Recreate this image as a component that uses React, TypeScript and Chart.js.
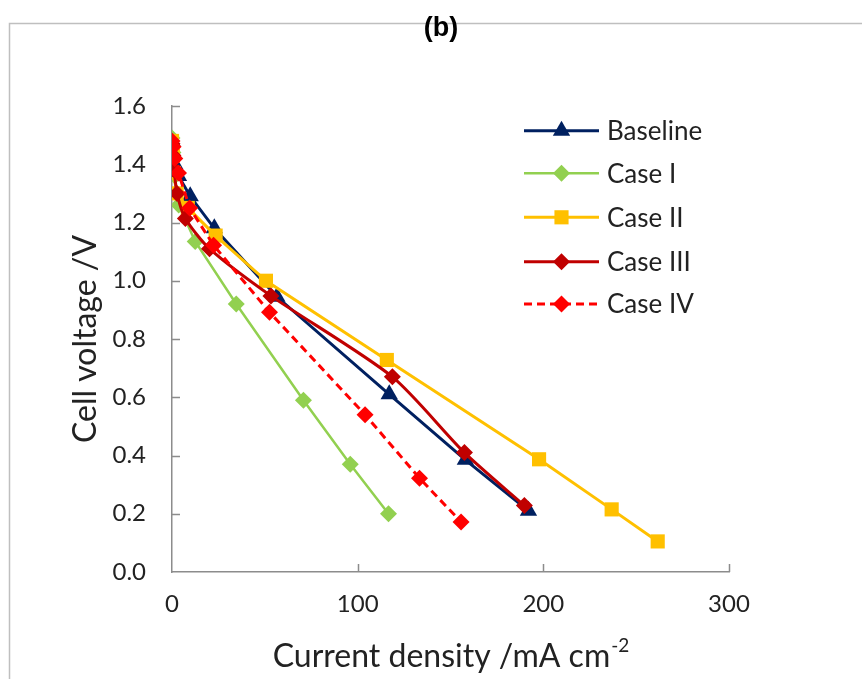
import React, { useEffect, useRef } from 'react';
import { Chart, registerables } from 'chart.js';

Chart.register(...registerables);

const chartTitle = '(b)';
const xAxisTitle = 'Current density /mA cm';
const xAxisSup = '-2';
const yAxisTitle = 'Cell voltage /V';
const xTicks = [0, 100, 200, 300];
const yTicks = [0, 0.2, 0.4, 0.6, 0.8, 1.0, 1.2, 1.4, 1.6];

const seriesNames = ['Baseline', 'Case I', 'Case II', 'Case III', 'Case IV'];

const baselineX = [0, 0.5, 1.5, 3.5, 9.8, 22.8, 56.5, 117, 158, 192];
const baselineY = [1.48, 1.44, 1.4, 1.36, 1.29, 1.18, 0.945, 0.61, 0.385, 0.21];

const case1X = [0, 0.5, 1.5, 3.6, 12.5, 34.6, 70.8, 96, 116.6];
const case1Y = [1.49, 1.44, 1.36, 1.26, 1.135, 0.92, 0.59, 0.37, 0.2];

const case2X = [0, 0.5, 1, 2.5, 8.5, 23.5, 50.6, 115.7, 197.7, 236.8, 261.6];
const case2Y = [1.48, 1.43, 1.37, 1.3, 1.25, 1.155, 1.0, 0.728, 0.387, 0.215, 0.105];

const case3X = [0, 0.5, 1.2, 2.7, 7.2, 20.2, 53.3, 118.7, 157.5, 189.8];
const case3Y = [1.47, 1.43, 1.38, 1.3, 1.214, 1.11, 0.948, 0.67, 0.41, 0.228];

const case4X = [0, 0.6, 1.5, 3.5, 9.5, 22.4, 52.5, 104, 133.3, 155.7];
const case4Y = [1.48, 1.46, 1.42, 1.37, 1.25, 1.122, 0.892, 0.54, 0.322, 0.172];

const colors = ['#002060', '#92D050', '#FFC000', '#C00000', '#FF0000'];
const markers = ['triangle', 'rectRot', 'rect', 'rectRot', 'rectRot'];
const markerRadius = [10, 8.5, 10, 8.5, 8.5];
const lineWidths = [3, 2.5, 3, 3, 3];
const dashes: number[][] = [[], [], [], [], [8, 5]];

const FONT = 'Lato, "Liberation Sans", sans-serif';

function pts(xs: number[], ys: number[]) {
  return xs.map((x, i) => ({ x, y: ys[i] }));
}

const decorPlugin = {
  id: 'decor',
  beforeDatasetsDraw(chart: any) {
    const ctx = chart.ctx;
    const xs = chart.scales.x;
    const ys = chart.scales.y;
    const area = chart.chartArea;
    ctx.save();
    ctx.strokeStyle = '#8c8c8c';
    ctx.lineWidth = 1.5;
    ctx.beginPath();
    xTicks.forEach((v) => {
      if (v === 0) return;
      const px = Math.round(xs.getPixelForValue(v)) + 0.5;
      ctx.moveTo(px, area.bottom);
      ctx.lineTo(px, area.bottom - 8);
    });
    yTicks.forEach((v) => {
      if (v === 0) return;
      const py = Math.round(ys.getPixelForValue(v)) + 0.5;
      ctx.moveTo(area.left, py);
      ctx.lineTo(area.left + 8, py);
    });
    ctx.stroke();
    ctx.restore();
  },
  afterDraw(chart: any) {
    const ctx = chart.ctx;
    const area = chart.chartArea;
    ctx.save();
    // outer border
    ctx.strokeStyle = '#bfbfbf';
    ctx.lineWidth = 1.5;
    ctx.beginPath();
    ctx.moveTo(9.5, 679);
    ctx.lineTo(9.5, 23.5);
    ctx.lineTo(862, 23.5);
    ctx.stroke();

    // title
    ctx.fillStyle = '#000';
    ctx.font = 'bold 27px "Liberation Sans Narrow", "Liberation Sans", Arial, sans-serif';
    ctx.textAlign = 'center';
    ctx.textBaseline = 'middle';
    ctx.fillText(chartTitle, 441, 29);

    // y axis title
    ctx.save();
    ctx.translate(86, (area.top + area.bottom) / 2);
    ctx.rotate(-Math.PI / 2);
    ctx.font = '32px ' + FONT;
    ctx.fillStyle = '#222';
    ctx.textAlign = 'center';
    ctx.textBaseline = 'middle';
    ctx.fillText(yAxisTitle, 0, 0);
    ctx.restore();

    // x axis title with superscript
    ctx.font = '32px ' + FONT;
    const mainW = ctx.measureText(xAxisTitle).width;
    ctx.font = '19px ' + FONT;
    const supW = ctx.measureText(xAxisSup).width;
    const cx = (area.left + area.right) / 2;
    const startX = cx - (mainW + supW) / 2;
    ctx.fillStyle = '#222';
    ctx.textAlign = 'left';
    ctx.textBaseline = 'middle';
    ctx.font = '32px ' + FONT;
    ctx.fillText(xAxisTitle, startX, 657);
    ctx.font = '19px ' + FONT;
    ctx.fillText(xAxisSup, startX + mainW + 1, 646);

    // legend
    const rowY = [130.7, 173.3, 217.3, 261.7, 304];
    seriesNames.forEach((name, i) => {
      const y = rowY[i];
      ctx.save();
      ctx.strokeStyle = colors[i];
      ctx.lineWidth = lineWidths[i];
      ctx.setLineDash(dashes[i]);
      ctx.beginPath();
      ctx.moveTo(524, y);
      ctx.lineTo(599, y);
      ctx.stroke();
      ctx.setLineDash([]);
      ctx.fillStyle = colors[i];
      const mx = 561.5;
      const r = markerRadius[i];
      ctx.beginPath();
      if (markers[i] === 'triangle') {
        const s = Math.sqrt(3) * r;
        ctx.moveTo(mx, y - r);
        ctx.lineTo(mx + s / 2, y + r / 2);
        ctx.lineTo(mx - s / 2, y + r / 2);
      } else if (markers[i] === 'rect') {
        const h = r * Math.SQRT1_2;
        ctx.rect(mx - h, y - h, 2 * h, 2 * h);
      } else {
        ctx.moveTo(mx, y - r);
        ctx.lineTo(mx + r, y);
        ctx.lineTo(mx, y + r);
        ctx.lineTo(mx - r, y);
      }
      ctx.closePath();
      ctx.fill();
      ctx.restore();
      ctx.fillStyle = '#222';
      ctx.font = '26px ' + FONT;
      ctx.textAlign = 'left';
      ctx.textBaseline = 'middle';
      ctx.fillText(name, 607, y + 1);
    });
    ctx.restore();
  },
};

export default function App() {
  const ref = useRef<HTMLCanvasElement | null>(null);
  useEffect(() => {
    if (!ref.current) return;
    const all = [
      pts(baselineX, baselineY),
      pts(case1X, case1Y),
      pts(case2X, case2Y),
      pts(case3X, case3Y),
      pts(case4X, case4Y),
    ];
    const chart = new Chart(ref.current, {
      type: 'scatter',
      data: {
        datasets: seriesNames.map((name, i) => ({
          label: name,
          data: all[i],
          showLine: true,
          borderColor: colors[i],
          backgroundColor: colors[i],
          borderWidth: lineWidths[i],
          borderDash: dashes[i],
          pointStyle: markers[i] as any,
          pointRadius: markerRadius[i],
          pointBorderWidth: 0,
          pointBackgroundColor: colors[i],
          pointBorderColor: colors[i],
          tension: i === 3 ? 0.25 : 0,
          order: 4 - i,
        })),
      },
      options: {
        animation: false,
        responsive: false,
        devicePixelRatio: 1,
        layout: { padding: { left: 112, right: 133, top: 106, bottom: 67 } },
        plugins: {
          legend: { display: false },
          title: { display: false },
          tooltip: { enabled: false },
        },
        scales: {
          x: {
            type: 'linear',
            min: 0,
            max: 300,
            afterBuildTicks: (s: any) => {
              s.ticks = xTicks.map((v) => ({ value: v }));
            },
            afterFit: (s: any) => {
              s.height = 40;
            },
            grid: { display: true, drawOnChartArea: false, drawTicks: false },
            border: { display: true, color: '#8c8c8c', width: 1.5 },
            ticks: {
              padding: 18,
              color: '#222',
              font: { family: FONT, size: 24 },
              callback: (v: any) => String(v),
            },
          },
          y: {
            type: 'linear',
            min: 0,
            max: 1.6,
            afterBuildTicks: (s: any) => {
              s.ticks = yTicks.map((v) => ({ value: v }));
            },
            afterFit: (s: any) => {
              s.width = 60;
            },
            grid: { display: true, drawOnChartArea: false, drawTicks: false },
            border: { display: true, color: '#8c8c8c', width: 1.5 },
            ticks: {
              padding: 26,
              color: '#222',
              font: { family: FONT, size: 24 },
              callback: (v: any) => Number(v).toFixed(1),
            },
          },
        },
      },
      plugins: [decorPlugin],
    });
    return () => chart.destroy();
  }, []);
  return (
    <div style={{ position: 'fixed', left: 0, top: 0, width: 862, height: 679, background: '#fff' }}>
      <canvas ref={ref} width={862} height={679} style={{ display: 'block' }} />
    </div>
  );
}
